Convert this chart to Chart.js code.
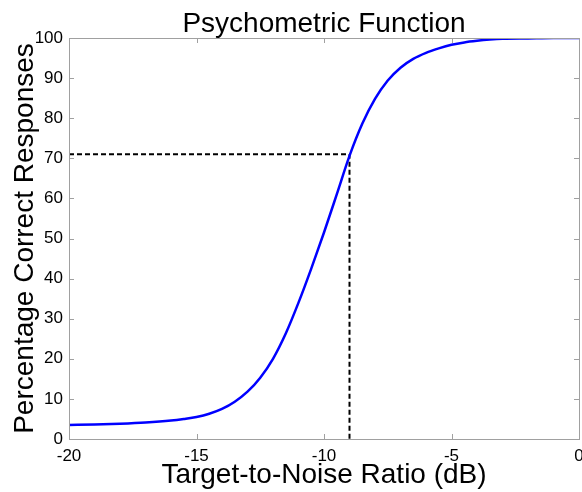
<!DOCTYPE html>
<html>
<head>
<meta charset="utf-8">
<script src="https://cdn.jsdelivr.net/npm/chart.js@4.4.1/dist/chart.umd.min.js"></script>
<style>
  body { margin: 0; background: #fff; }
  #wrap { width: 582px; height: 492px; }
</style>
</head>
<body>
<div id="wrap"><canvas id="chart" width="582" height="492"></canvas></div>
<script>
// valores
const snrDb = [-20, -19, -18, -17, -16, -15.5, -15, -14.5, -14, -13.5, -13, -12.5, -12, -11.5, -11,
  -10.5, -10, -9.5, -9, -8.5, -8, -7.5, -7, -6.5, -6, -5.5, -5, -4.5, -4, -3.5, -3, -2, -1, 0];
const percentCorrect = [3.5, 3.6, 3.8, 4.1, 4.6, 5.0, 5.5, 6.3, 7.5, 9.3, 11.8, 15.3, 20, 26.3, 34,
  42.5, 51.5, 61, 70.6, 78.6, 84.8, 89.4, 92.6, 94.8, 96.3, 97.4, 98.3, 98.9, 99.3, 99.6, 99.8, 99.9, 100, 100];

// linea de umbral (71 %)
const thresholdX = [-20, -9, -9];
const thresholdY = [71, 71, 0];

const xTicks = [-20, -15, -10, -5, 0];
const yTicks = [0, 10, 20, 30, 40, 50, 60, 70, 80, 90, 100];

const fontFamily = "'Liberation Sans', Arial, sans-serif";

// caja gris y marcas hacia dentro en los cuatro lados
const boxPlugin = {
  id: "box",
  afterDraw(chart) {
    const { ctx, chartArea: a, scales } = chart;
    const len = 5;
    ctx.save();
    ctx.strokeStyle = "#a0a0a0";
    ctx.lineWidth = 1;
    ctx.beginPath();
    xTicks.forEach(v => {
      const px = Math.round(scales.x.getPixelForValue(v)) + 0.5;
      ctx.moveTo(px, a.bottom); ctx.lineTo(px, a.bottom - len);
      ctx.moveTo(px, a.top); ctx.lineTo(px, a.top + len);
    });
    yTicks.forEach(v => {
      const py = Math.round(scales.y.getPixelForValue(v)) + 0.5;
      ctx.moveTo(a.left, py); ctx.lineTo(a.left + len, py);
      ctx.moveTo(a.right, py); ctx.lineTo(a.right - len, py);
    });
    ctx.stroke();
    ctx.strokeRect(Math.round(a.left) + 0.5, Math.round(a.top) + 0.5,
      Math.round(a.right - a.left), Math.round(a.bottom - a.top));
    ctx.restore();
  }
};

new Chart(document.getElementById("chart"), {
  type: "line",
  data: {
    datasets: [
      {
        label: "Psychometric",
        data: snrDb.map((x, i) => ({ x: x, y: percentCorrect[i] })),
        borderColor: "#0000ff",
        borderWidth: 2.5,
        pointRadius: 0,
        cubicInterpolationMode: "monotone",
        fill: false,
      },
      {
        label: "Threshold",
        data: thresholdX.map((x, i) => ({ x: x, y: thresholdY[i] })),
        borderColor: "#000000",
        borderWidth: 2,
        borderDash: [5, 3],
        pointRadius: 0,
        tension: 0,
        fill: false,
      },
    ],
  },
  options: {
    responsive: false,
    animation: false,
    layout: { padding: { left: 0, right: 3, top: 0, bottom: 0 } },
    plugins: {
      legend: { display: false },
      tooltip: { enabled: false },
      title: {
        display: true,
        text: "Psychometric Function",
        color: "#000",
        fullSize: false,
        font: { family: fontFamily, size: 28, weight: "normal", lineHeight: 1 },
        padding: { top: 10, bottom: 0 },
      },
    },
    scales: {
      x: {
        type: "linear",
        min: -20,
        max: 0,
        border: { display: false },
        grid: { display: false, drawTicks: false, tickLength: 0 },
        afterBuildTicks: s => { s.ticks = xTicks.map(v => ({ value: v })); },
        afterFit: s => { s.height = 53; s.paddingLeft = 0; s.paddingRight = 0; },
        ticks: {
          color: "#000",
          padding: 7,
          maxRotation: 0,
          font: { family: fontFamily, size: 17 },
        },
        title: {
          display: true,
          text: "Target-to-Noise Ratio (dB)",
          color: "#000",
          font: { family: fontFamily, size: 28, lineHeight: 1 },
          padding: { top: 0, bottom: 3 },
        },
      },
      y: {
        type: "linear",
        min: 0,
        max: 100,
        border: { display: false },
        grid: { display: false, drawTicks: false, tickLength: 0 },
        afterBuildTicks: s => { s.ticks = yTicks.map(v => ({ value: v })); },
        afterFit: s => { s.width = 69; s.paddingTop = 0; s.paddingBottom = 0; },
        ticks: {
          color: "#000",
          padding: 6,
          font: { family: fontFamily, size: 17 },
        },
        title: {
          display: true,
          text: "Percentage Correct Responses",
          color: "#000",
          font: { family: fontFamily, size: 28, lineHeight: 1 },
          padding: { top: 11, bottom: 0 },
        },
      },
    },
  },
  plugins: [boxPlugin],
});
</script>
</body>
</html>
